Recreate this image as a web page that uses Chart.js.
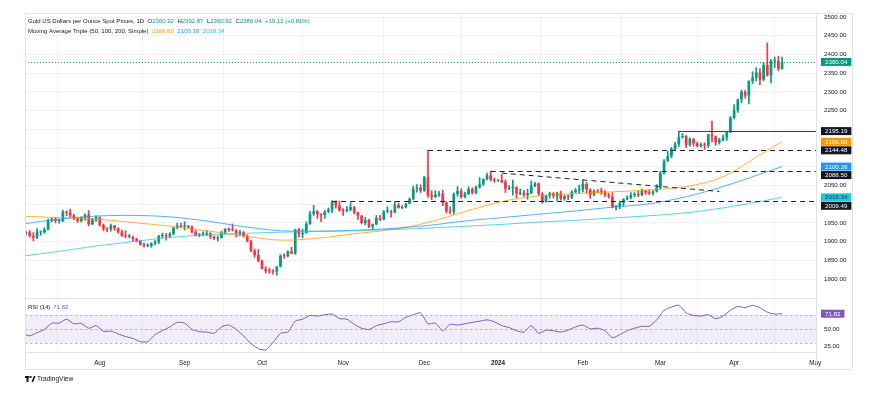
<!DOCTYPE html>
<html>
<head>
<meta charset="utf-8">
<title>Gold US Dollars per Ounce Spot Prices, 1D</title>
<script src="https://cdn.jsdelivr.net/npm/chart.js@4.4.1/dist/chart.umd.min.js"></script>
<style>
html,body{margin:0;padding:0;background:#ffffff;overflow:hidden;}
canvas{display:block;}
</style>
</head>
<body>
<canvas id="chart" width="881" height="396"></canvas>
<script>
// ---------- calendar (daily sessions) ----------
const firstDay = '2023-07-03';
const lastDay = '2024-05-03';
const closedDays = ['2023-12-25', '2024-03-29'];

// ---------- axis ticks ----------
const tickDates = ['2023-07-03','2023-08-01','2023-09-01','2023-10-02','2023-11-01','2023-12-01','2024-01-01','2024-02-01','2024-03-01','2024-04-01','2024-05-01'];
const tickLabels = ['Jul','Aug','Sep','Oct','Nov','Dec','2024','Feb','Mar','Apr','May'];
const priceTicks = [1800,1850,1900,1950,2000,2050,2100,2150,2200,2250,2300,2350,2400,2450,2500];
const rsiTicks = [25, 50, 75];
const rsiBands = [70, 50, 30];

// ---------- daily OHLC (Jul 3 2023 .. Apr 18 2024) ----------
const opens = [
 1919,1921,1925,1915,1911,1925,1925,1932,1957,1961,1955,1955,1979,1977,1970,1962,1955,1965,1972,1946,1959,
 1965,1944,1934,1933,1943,1936,1925,1915,1913,1913,1907,1902,1892,1889,1889,1895,1899,1915,1917,1914,1920,1937,1943,
 1940,1940,1939,1926,1916,1919,1919,1922,1913,1908,1910,1924,1934,1931,1930,1920,1925,1915,1901,1875,1864,
 1849,1827,1822,1821,1820,1833,1862,1861,1874,1868,1932,1920,1923,1947,1974,1981,1973,1971,1980,1985,2006,1996,
 1983,1982,1985,1992,1978,1969,1950,1958,1940,1946,1963,1959,1980,1980,1978,1998,1990,1992,2001,2014,2041,2044,
 2036,2072,2024,2019,2025,2028,2004,1981,1980,2027,2035,2019,2027,2040,2030,2045,2053,2067,2077,2065,
 2063,2064,2059,2041,2043,2045,2028,2030,2024,2029,2049,2055,2028,2006,2023,2029,2022,2029,2014,2021,2018,2032,2037,
 2039,2054,2039,2025,2035,2034,2033,2024,2020,1992,1992,2004,2013,2017,2024,2025,2024,2036,2031,2029,2034,
 2044,2083,2115,2128,2148,2160,2179,2182,2158,2174,2162,2155,2160,2157,2186,2181,2165,2171,2178,2195,
 2230,2251,2280,2300,2290,2329,2339,2352,2333,2372,2344,2383,2383,2360.92
];
const highs = [
 1933,1928,1930,1924,1935,1928,1937,1960,1963,1964,1960,1984,1982,1987,1973,1964,1966,1974,1983,1962,1969,
 1966,1947,1937,1947,1943,1937,1931,1929,1919,1915,1909,1904,1896,1894,1897,1903,1917,1923,1922,1924,1938,1949,1949,
 1953,1943,1942,1930,1922,1926,1929,1924,1915,1915,1928,1935,1937,1947,1932,1930,1927,1918,1904,1880,1879,
 1850,1833,1829,1825,1834,1865,1867,1875,1885,1933,1936,1934,1953,1981,1997,1983,1975,1983,1990,2009.49,2009,2008,
 1988,1994,2004,1994,1979,1970,1965,1960,1947,1970,1970,1983,1993,1984,2007,2003,1996,2003,2017,2048,2052,2052,
 2075,2144.48,2036,2036,2034,2037,2006,1993,2030,2047,2041,2032,2047,2044,2048,2071,2068,2083,2088.50,2070,
 2065,2079,2065,2050,2064,2047,2041,2037,2040,2062,2058,2057,2031,2024,2032,2031,2032,2035,2024,2025,2036,2042,2051,
 2065,2058,2041,2039,2039,2043,2036,2029,2031,1996,2008,2015,2022,2031,2031,2035,2041,2037,2038,2036,2052,
 2088,2119,2141,2152,2165,2195.19,2189,2184,2177,2176,2166,2164,2164,2187,2222,2182,2176,2185,2195,2235,
 2266,2281,2305,2304,2330,2354,2365,2362,2378,2431,2386,2393,2395,2392.87
];
const lows = [
 1903,1918,1912,1902,1908,1917,1922,1931,1953,1950,1949,1953,1969,1966,1958,1951,1952,1957,1942,1945,1954,
 1941,1929,1926,1928,1930,1922,1914,1910,1910,1902,1899,1890,1885,1886,1885,1891,1895,1910,1904,1911,1918,1934,1938,
 1931,1936,1923,1915,1913,1915,1916,1908,1905,1901,1909,1920,1927,1928,1913,1916,1912,1899,1873,1858,1846,
 1827,1816,1815,1813,1810,1832,1855,1859,1867,1866,1912,1910,1922,1946,1970,1962,1953,1962,1977,1977,1989,1981,
 1970,1979,1982,1974,1959,1947,1945,1937,1931,1945,1956,1958,1977,1965,1977,1989,1988,1990,2001,2012,2032,2031,
 2034,2018,2012,2017,2021,1996,1976,1974,1973,2021,2016,2017,2025,2027,2028,2043,2050,2065,2062,2058,
 2061,2057,2031,2038,2024,2017,2025,2021,2013,2028,2047,2023,2002,2005,2016,2016,2010,2011,2010,2012,2015,2030,2030,
 2033,2030,2015,2022,2030,2026,2020,2016,1990,1984,1988,1995,2011,2014,2019,2020,2023,2026,2025,2024,2032,
 2040,2080,2114,2124,2144,2154,2176,2151,2155,2155,2153,2152,2146,2151,2166,2157,2160,2169,2170,2191,
 2228,2245,2271,2283,2268,2322,2329,2319,2330,2342,2324,2365,2356,2360.92
];
const closes = [
 1921,1925,1915,1911,1925,1925,1932,1957,1961,1955,1955,1979,1977,1970,1962,1955,1965,1972,1946,1959,1965,
 1944,1934,1933,1943,1936,1925,1915,1913,1913,1907,1902,1892,1889,1889,1895,1899,1915,1917,1914,1920,1937,1943,1940,
 1940,1939,1926,1916,1919,1919,1922,1913,1908,1910,1924,1934,1931,1930,1920,1925,1915,1901,1875,1864,1849,
 1827,1822,1821,1820,1833,1862,1861,1874,1868,1932,1920,1923,1947,1974,1981,1973,1971,1980,1985,2006,1996,1983,
 1982,1985,1992,1978,1969,1950,1958,1940,1946,1963,1959,1980,1980,1978,1998,1990,1992,2001,2014,2041,2044,2036,
 2072,2024,2019,2025,2028,2004,1981,1980,2027,2035,2019,2027,2040,2030,2045,2053,2067,2077,2065,2063,
 2064,2059,2041,2043,2045,2028,2030,2024,2029,2049,2055,2028,2006,2023,2029,2022,2029,2014,2021,2018,2032,2037,2039,
 2054,2039,2025,2035,2034,2033,2024,2020,1992,1992,2004,2013,2017,2024,2025,2024,2036,2031,2029,2034,2044,
 2083,2115,2128,2148,2160,2179,2182,2158,2174,2162,2155,2160,2157,2186,2181,2165,2171,2178,2195,2230,
 2251,2280,2300,2290,2329,2339,2352,2333,2372,2344,2383,2383,2360.92,2380.04
];

// ---------- moving averages (read every 10 sessions) ----------
const maDates = ['2023-07-03','2023-07-17','2023-07-31','2023-08-14','2023-08-28','2023-09-11','2023-09-25','2023-10-09','2023-10-23','2023-11-06','2023-11-20','2023-12-04','2023-12-18','2024-01-02','2024-01-16','2024-01-30','2024-02-13','2024-02-27','2024-03-12','2024-03-26','2024-04-10','2024-04-18'];
const ma50  = [1968,1964,1960,1951,1941,1929,1915,1904,1909,1921,1932,1951,1980,2007,2022,2028,2033,2038,2047,2073,2132,2166.60];
const ma100 = [1947,1960,1968,1970,1966,1955,1940,1929,1928,1930,1935,1943,1955,1964,1973,1982,1992,2001,2020,2047,2080,2100.39];
const ma200 = [1861,1874,1888,1900,1911,1918,1922,1925,1927,1929,1932,1936,1941,1946,1952,1957,1963,1969,1977,1990,2007,2018.34];

// ---------- RSI(14), read every second session ----------
const rsiValues = [
 43.8,40.2,44.7,49.3,58.4,58.4,64,57.5,58,51,
 54.8,46.6,47,42.9,39.2,36.5,31.9,31.9,42,47.5,
 53,59.4,58.4,49.3,46.1,45.6,43.8,53,55.7,49.3,
 40.2,29.2,21.9,20,31,43.8,45.6,61.2,64,69.4,
 68.5,70.4,71.3,64.8,64,56.6,51.1,49.3,54.8,57.5,
 60.3,60.3,66.7,70.4,73.1,57.5,58.4,47.5,56.6,55.7,
 57.5,59.4,61.2,63,60.3,54.8,52,47.5,45.6,54.8,
 43.8,48.4,47.5,45.6,48.4,53,55.7,50.2,51.1,47.5,
 37.4,42,47.5,51.1,53.9,53.9,63,76.7,81.3,84,
 73.1,69.4,68.5,70.4,64.8,68.5,76.7,82.2,80.4,84,
 80.4,74,71.3,71.82
];

// ---------- drawn levels ----------
const levelValues = [2195.19, 2144.48, 2088.50, 2009.49];
const levelStarts = ['2024-03-08', '2023-12-04', '2023-12-28', '2023-10-27'];
const trendDates = ['2024-01-02', '2024-03-25'];
const trendValues = [2083, 2034];

// ================= build =================
const dates = [];
for (let t = Date.parse(firstDay + 'T00:00:00Z'); t <= Date.parse(lastDay + 'T00:00:00Z'); t += 86400000) {
  const d = new Date(t), wd = d.getUTCDay(), s = d.toISOString().slice(0, 10);
  if (wd !== 0 && wd !== 6 && !closedDays.includes(s)) dates.push(s);
}
const idxOf = d => dates.indexOf(d);
const last = closes.length - 1;

const UP = '#089981', DOWN = '#F23645', TEXT = '#131722';
const C50 = '#FF9800', C100 = '#2196F3', C200 = '#26C6DA', CRSI = '#7E57C2';
const L50 = 'rgba(255,152,0,0.85)', L100 = 'rgba(33,150,243,0.85)', L200 = 'rgba(38,198,218,0.85)';
const FONT = "'Liberation Sans', Arial, sans-serif";
const levelDash = [[], [5, 4], [5, 4], [5, 4]];

const colorOf = i => closes[i] >= opens[i] ? UP : DOWN;
const bodies = closes.map((c, i) => ({x: i, y: [opens[i], c]}));
const wicks = closes.map((c, i) => ({x: i, y: [lows[i], highs[i]]}));
const maPts = arr => arr.map((v, k) => ({x: idxOf(maDates[k]), y: v}));
const rsiPts = rsiValues.map((v, k) => ({x: 2 * k, y: v}));
const trendPts = trendValues.map((v, k) => ({x: idxOf(trendDates[k]), y: v}));
const tickIdx = tickDates.map(idxOf);

const X_MIN = 0.73, X_MAX = 215.2;

function markerLayout(chart) {
  const y = chart.scales.y;
  const list = [
    {v: closes[last], bg: UP, fg: '#ffffff'},
    {v: levelValues[0], bg: '#131722', fg: '#ffffff'},
    {v: ma50[ma50.length - 1], bg: C50, fg: '#ffffff'},
    {v: levelValues[1], bg: '#131722', fg: '#ffffff'},
    {v: ma100[ma100.length - 1], bg: C100, fg: '#ffffff'},
    {v: levelValues[2], bg: '#131722', fg: '#ffffff'},
    {v: ma200[ma200.length - 1], bg: C200, fg: '#0d3b44'},
    {v: levelValues[3], bg: '#131722', fg: '#ffffff'}
  ].map(m => Object.assign(m, {py: y.getPixelForValue(m.v)}));
  list.sort((a, b) => a.py - b.py);
  const h = 8.5;
  for (let i = 1; i < list.length; i++) {
    if (list[i].py < list[i - 1].py + h) list[i].py = list[i - 1].py + h;
  }
  return list;
}

function rsiMarkerY(chart) { return chart.scales.rsi.getPixelForValue(rsiValues[rsiValues.length - 1]); }

const overlay = {
  id: 'overlay',
  beforeDatasetsDraw(chart) {
    const {ctx, chartArea: a} = chart;
    const r = chart.scales.rsi;
    ctx.save();
    const yTop = r.getPixelForValue(rsiBands[0]), yBot = r.getPixelForValue(rsiBands[2]);
    ctx.fillStyle = 'rgba(126,87,194,0.10)';
    ctx.fillRect(a.left, yTop, a.right - a.left, yBot - yTop);
    ctx.strokeStyle = '#a4a7b0';
    ctx.lineWidth = 0.8;
    ctx.setLineDash([2.5, 2.5]);
    rsiBands.forEach(v => {
      const yy = Math.round(r.getPixelForValue(v)) + 0.5;
      ctx.beginPath(); ctx.moveTo(a.left, yy); ctx.lineTo(a.right, yy); ctx.stroke();
    });
    ctx.setLineDash([]);
    ctx.strokeStyle = '#e0e3eb';
    ctx.lineWidth = 1;
    const sep = Math.round(r.top) + 0.5;
    ctx.beginPath(); ctx.moveTo(a.left, sep); ctx.lineTo(a.right, sep); ctx.stroke();
    ctx.restore();
  },
  afterDatasetsDraw(chart) {
    const {ctx, chartArea: a, scales} = chart;
    const x = scales.x, y = scales.y;
    ctx.save();
    levelValues.forEach((v, i) => {
      const yy = Math.round(y.getPixelForValue(v)) + 0.5;
      const x0 = x.getPixelForValue(idxOf(levelStarts[i]));
      ctx.strokeStyle = i === 0 ? '#3b3e48' : '#1e222d';
      ctx.lineWidth = 1;
      ctx.setLineDash(levelDash[i]);
      ctx.beginPath(); ctx.moveTo(x0, yy); ctx.lineTo(a.right, yy); ctx.stroke();
    });
    const py = Math.round(y.getPixelForValue(closes[last])) + 0.5;
    ctx.strokeStyle = UP;
    ctx.setLineDash([1, 2]);
    ctx.beginPath(); ctx.moveTo(a.left, py); ctx.lineTo(a.right, py); ctx.stroke();
    ctx.restore();
  },
  afterDraw(chart) {
    const {ctx, chartArea: a} = chart;
    ctx.save();
    ctx.strokeStyle = '#e0e3eb';
    ctx.lineWidth = 1;
    ctx.strokeRect(a.left + 0.5, a.top + 0.5, 852 - a.left, 369 - a.top);
    ctx.beginPath(); ctx.moveTo(a.right + 0.5, a.top); ctx.lineTo(a.right + 0.5, 369.5); ctx.stroke();
    ctx.beginPath(); ctx.moveTo(a.left, a.bottom + 0.5); ctx.lineTo(a.right, a.bottom + 0.5); ctx.stroke();

    ctx.font = '6.2px ' + FONT;
    ctx.textBaseline = 'middle';
    ctx.textAlign = 'left';
    const bx = a.right + 5;
    markerLayout(chart).forEach(m => {
      const txt = m.v.toFixed(2);
      const w = ctx.measureText(txt).width + 8;
      ctx.fillStyle = m.bg;
      ctx.fillRect(bx, m.py - 4, w, 8);
      ctx.fillStyle = m.fg;
      ctx.fillText(txt, bx + 4, m.py + 0.3);
    });
    const ry = rsiMarkerY(chart);
    const rtxt = rsiValues[rsiValues.length - 1].toFixed(2);
    const rw = ctx.measureText(rtxt).width + 8;
    ctx.fillStyle = CRSI;
    ctx.fillRect(bx, ry - 4, rw, 8);
    ctx.fillStyle = '#ffffff';
    ctx.fillText(rtxt, bx + 4, ry + 0.3);

    const runs = (x0, y0, parts) => {
      let xx = x0;
      parts.forEach(([t, c, gap]) => { xx += gap || 0; ctx.fillStyle = c; ctx.fillText(t, xx, y0); xx += ctx.measureText(t).width; });
    };
    ctx.font = '6px ' + FONT;
    const chg = closes[last] - closes[last - 1];
    const pct = chg / closes[last - 1] * 100;
    const sgn = chg >= 0 ? '+' : '\u2212';
    const cc = chg >= 0 ? UP : DOWN;
    runs(28, 21.5, [
      ['Gold US Dollars per Ounce Spot Prices, 1D', TEXT],
      ['O', TEXT, 3.5], [opens[last].toFixed(2), cc],
      ['H', TEXT, 3.5], [highs[last].toFixed(2), cc],
      ['L', TEXT, 3.5], [lows[last].toFixed(2), cc],
      ['C', TEXT, 3.5], [closes[last].toFixed(2), cc],
      [sgn + Math.abs(chg).toFixed(2) + ' (' + sgn + Math.abs(pct).toFixed(2) + '%)', cc, 3.5]
    ]);
    runs(28, 31, [
      ['Moving Average Triple (50, 100, 200, Simple)', TEXT],
      [ma50[ma50.length - 1].toFixed(2), C50, 3.7],
      [ma100[ma100.length - 1].toFixed(2), C100, 3.7],
      [ma200[ma200.length - 1].toFixed(2), C200, 3.7]
    ]);
    runs(28, chart.scales.rsi.top + 9, [
      ['RSI (14)', TEXT],
      [rsiValues[rsiValues.length - 1].toFixed(2), CRSI, 3]
    ]);

    ctx.fillStyle = TEXT;
    ctx.fillRect(25, 376, 4.5, 2);
    ctx.fillRect(26.5, 376, 2, 6);
    ctx.beginPath(); ctx.arc(30.8, 377, 1, 0, Math.PI * 2); ctx.fill();
    ctx.beginPath(); ctx.moveTo(31.5, 382); ctx.lineTo(33.8, 376); ctx.lineTo(35.5, 376); ctx.lineTo(33.3, 382); ctx.closePath(); ctx.fill();
    ctx.font = '6.6px ' + FONT;
    ctx.fillText('TradingView', 37, 379.5);
    ctx.restore();
  }
};

const hiddenPriceTick = ctx => {
  const py = ctx.scale.getPixelForValue(ctx.tick.value);
  return markerLayout(ctx.chart).some(m => Math.abs(m.py - py) < 6.5);
};

new Chart(document.getElementById('chart'), {
  type: 'bar',
  data: {
    datasets: [
      {type: 'bar', label: 'wick', data: wicks, xAxisID: 'x', yAxisID: 'y', grouped: false,
       maxBarThickness: 1, barPercentage: 1, categoryPercentage: 1,
       backgroundColor: c => colorOf(c.dataIndex), borderWidth: 0, order: 6},
      {type: 'bar', label: 'body', data: bodies, xAxisID: 'x', yAxisID: 'y', grouped: false,
       barPercentage: 0.74, categoryPercentage: 1, minBarLength: 1,
       backgroundColor: c => colorOf(c.dataIndex), borderWidth: 0, order: 5},
      {type: 'line', label: 'SMA 200', data: maPts(ma200), yAxisID: 'y', borderColor: L200, borderWidth: 0.9,
       pointRadius: 0, tension: 0.35, order: 3},
      {type: 'line', label: 'SMA 100', data: maPts(ma100), yAxisID: 'y', borderColor: L100, borderWidth: 0.9,
       pointRadius: 0, tension: 0.35, order: 3},
      {type: 'line', label: 'SMA 50', data: maPts(ma50), yAxisID: 'y', borderColor: L50, borderWidth: 0.9,
       pointRadius: 0, tension: 0.35, order: 3},
      {type: 'line', label: 'trend', data: trendPts, yAxisID: 'y', borderColor: '#1e222d', borderWidth: 1,
       borderDash: [5, 4], pointRadius: 0, order: 2},
      {type: 'line', label: 'RSI', data: rsiPts, yAxisID: 'rsi', borderColor: CRSI, borderWidth: 1,
       pointRadius: 0, tension: 0.2, order: 1}
    ]
  },
  options: {
    responsive: false,
    animation: false,
    devicePixelRatio: 1,
    layout: {padding: {left: 25, top: 13, right: 29, bottom: 27}},
    plugins: {legend: {display: false}, tooltip: {enabled: false}},
    scales: {
      x: {
        type: 'linear', min: X_MIN, max: X_MAX, offset: false,
        grid: {color: '#eff1f5', drawTicks: false},
        border: {display: false},
        afterBuildTicks: s => { s.ticks = tickIdx.filter(v => v >= X_MIN && v <= X_MAX).map(v => ({value: v})); },
        afterFit: s => { s.height = 17; },
        ticks: {
          autoSkip: false, maxRotation: 0, padding: 7, color: TEXT,
          font: c => ({family: FONT, size: 6.3, weight: (c.tick && tickLabels[tickIdx.indexOf(c.tick.value)] === '2024') ? 'bold' : 'normal'}),
          callback: v => tickLabels[tickIdx.indexOf(v)] || ''
        }
      },
      y: {
        type: 'linear', position: 'right', stack: 'panes', stackWeight: 285,
        min: 1749.3, max: 2510.7,
        grid: {color: '#eff1f5', drawTicks: false},
        border: {display: false},
        afterBuildTicks: s => { s.ticks = priceTicks.map(v => ({value: v})); },
        afterFit: s => { s.width = 36; },
        ticks: {
          padding: 8, font: {family: FONT, size: 6.2},
          color: c => hiddenPriceTick(c) ? 'rgba(0,0,0,0)' : TEXT,
          callback: v => Number(v).toFixed(2)
        }
      },
      rsi: {
        type: 'linear', position: 'right', stack: 'panes', stackWeight: 54,
        min: 17.1, max: 94.3,
        grid: {display: false, drawTicks: false},
        border: {display: false},
        afterBuildTicks: s => { s.ticks = rsiTicks.map(v => ({value: v})); },
        afterFit: s => { s.width = 36; },
        ticks: {
          padding: 8, font: {family: FONT, size: 6.2},
          color: c => Math.abs(c.scale.getPixelForValue(c.tick.value) - rsiMarkerY(c.chart)) < 6.5 ? 'rgba(0,0,0,0)' : TEXT,
          callback: v => Number(v).toFixed(2)
        }
      }
    }
  },
  plugins: [overlay]
});
</script>
</body>
</html>
